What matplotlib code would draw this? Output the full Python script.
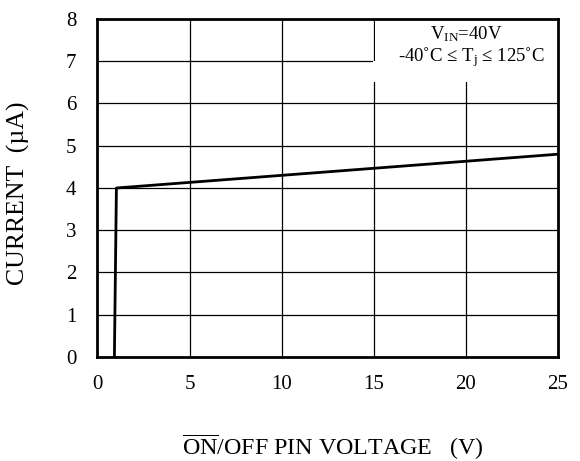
import matplotlib.pyplot as plt
from matplotlib.patches import Rectangle

plt.rcParams['font.family'] = ['Liberation Serif', 'DejaVu Serif']
plt.rcParams['mathtext.fontset'] = 'custom'
plt.rcParams['mathtext.rm'] = 'Liberation Serif'
plt.rcParams['mathtext.it'] = 'Liberation Serif:italic'

# ON/OFF pin current vs pin voltage
voltage = [0.92, 1.03, 25.0]
current = [0.0, 4.0, 4.8]

x_ticks = [0, 5, 10, 15, 20, 25]
y_ticks = [0, 1, 2, 3, 4, 5, 6, 7, 8]

fig = plt.figure(figsize=(5.8, 4.61), dpi=100)
ax = fig.add_axes([0.168, 0.2256, 0.794, 0.7332])

ax.set_xlim(0, 25)
ax.set_ylim(0, 8)
ax.set_xticks(x_ticks)
ax.set_yticks(y_ticks)
ax.tick_params(length=0, labelsize=15)
ax.tick_params(axis='x', pad=13)
ax.tick_params(axis='y', pad=15)
ax.grid(True, color='black', linewidth=0.9)
ax.set_axisbelow(True)
for s in ax.spines.values():
    s.set_linewidth(2)

# white panel behind the conditions text
ax.add_patch(Rectangle((14.97, 6.5), 10.03, 0.5, facecolor='white',
                       edgecolor='none', zorder=1.5))
ax.add_patch(Rectangle((15.05, 7.0), 9.95, 1.0, facecolor='white',
                       edgecolor='none', zorder=1.5))

ax.plot(voltage, current, color='black', linewidth=2, zorder=3)

ax.text(20.0, 7.53, r'V$_{\mathrm{IN}}$=40V', ha='center', va='baseline',
        fontsize=13.5, zorder=4)
ax.text(20.3, 7.0, '-40˚C ≤ T$_{\\mathrm{j}}$ ≤ 125˚C', ha='center', va='baseline',
        fontsize=13.5, zorder=4)

fig.text(18 / 580, 1 - 193 / 461, 'CURRENT  (µA)', rotation=90,
         ha='center', va='center', fontsize=18.5)
fig.text(333 / 580, 1 - 455 / 461, r'$\overline{\mathrm{ON}}$/OFF PIN VOLTAGE   (V)',
         ha='center', va='baseline', fontsize=17.3)

fig.savefig('out.png', dpi=100)
